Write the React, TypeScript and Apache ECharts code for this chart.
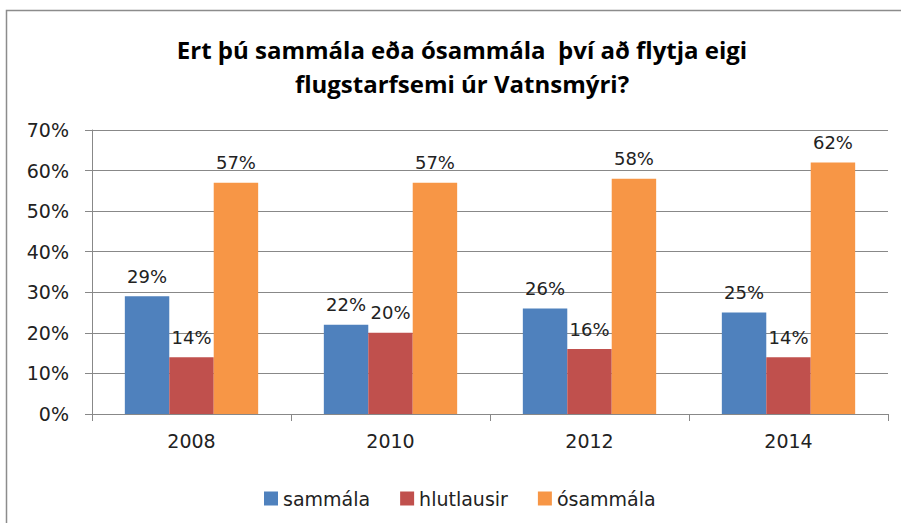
import React, { useEffect, useRef } from "react";
import * as echarts from "echarts";

const categories = ["2008", "2010", "2012", "2014"];
const seriesNames = ["sammála", "hlutlausir", "ósammála"];
const sammala = [29, 22, 26, 25];
const hlutlausir = [14, 20, 16, 14];
const osammala = [57, 57, 58, 62];
const yTicks = [0, 10, 20, 30, 40, 50, 60, 70];
const titleLines = ["Ert þú sammála eða ósammála  því að flytja eigi", "flugstarfsemi úr Vatnsmýri?"];

const colors = ["#4F81BD", "#C0504D", "#F79646"];
const FONT = "DejaVu Sans";

export default function App() {
  const ref = useRef<HTMLDivElement>(null);
  useEffect(() => {
    if (!ref.current) return;
    const chart = echarts.init(ref.current, undefined, { renderer: "svg" });
    const values = [sammala, hlutlausir, osammala];
    chart.setOption({
      animation: false,
      backgroundColor: "#ffffff",
      graphic: [
        {
          type: "rect",
          shape: { x: 6.5, y: 10.5, width: 1000, height: 1000 },
          style: { fill: "none", stroke: "#8c8c8c", lineWidth: 1.5 },
          silent: true,
        },
        {
          type: "text",
          x: 462,
          y: 32,
          style: {
            text: titleLines.join("\n"),
            fontFamily: "Open Sans",
            fontWeight: "bold",
            fontSize: 24,
            lineHeight: 34,
            fill: "#000",
            textAlign: "center",
            textVerticalAlign: "top",
          },
        },
      ],
      grid: { left: 92, right: 13, top: 130, bottom: 109, containLabel: false },
      legend: {
        data: seriesNames,
        left: 259,
        top: 484,
        itemWidth: 14,
        itemHeight: 14,
        itemGap: 30,
        icon: "rect",
        textStyle: { fontFamily: FONT, fontSize: 19, color: "#222" },
      },
      xAxis: {
        type: "category",
        data: categories,
        axisLine: { show: true, lineStyle: { color: "#888", width: 1 } },
        axisTick: { show: true, length: 7, lineStyle: { color: "#888" }, alignWithLabel: false },
        axisLabel: { fontFamily: FONT, fontSize: 19, color: "#222", margin: 17 },
        splitLine: { show: false },
      },
      yAxis: {
        type: "value",
        min: 0,
        max: 70,
        interval: 10,
        axisLine: { show: true, lineStyle: { color: "#888", width: 1 } },
        axisTick: { show: true, length: 7, lineStyle: { color: "#888" } },
        axisLabel: {
          fontFamily: FONT,
          fontSize: 19,
          color: "#222",
          margin: 23,
          formatter: (v: number) => (yTicks.includes(v) ? v + "%" : ""),
        },
        splitLine: { show: true, lineStyle: { color: "#888", width: 1 } },
      },
      series: seriesNames.map((name, i) => ({
        name,
        type: "bar",
        data: values[i],
        barGap: "0%",
        barCategoryGap: "33%",
        itemStyle: { color: colors[i] },
        label: {
          show: true,
          position: "top",
          distance: 11,
          formatter: "{c}%",
          fontFamily: FONT,
          fontSize: 18,
          color: "#222",
        },
      })),
    });
    return () => chart.dispose();
  }, []);
  return <div ref={ref} style={{ position: "fixed", left: 0, top: 0, width: 901, height: 523 }} />;
}
